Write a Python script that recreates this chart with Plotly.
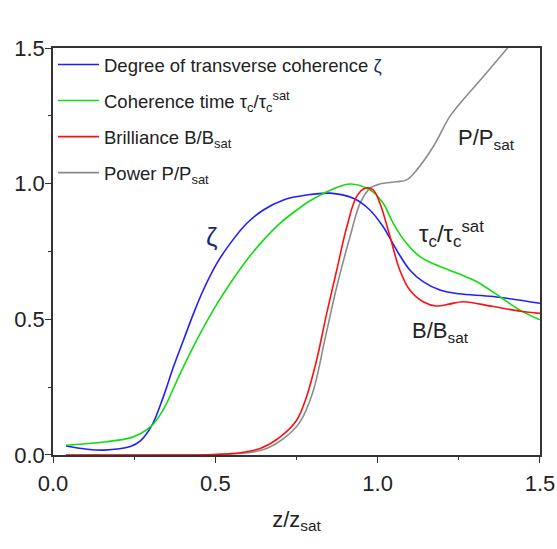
import plotly.graph_objects as go

# Degree of transverse coherence (blue)
zeta_x = [0.04, 0.10, 0.156, 0.238, 0.269, 0.304, 0.340, 0.371, 0.402, 0.433, 0.463, 0.505, 0.546, 0.597, 0.648, 0.71, 0.781, 0.853, 0.925, 0.976, 1.017, 1.058, 1.099, 1.14, 1.192, 1.25, 1.356, 1.5]
zeta_y = [0.033, 0.022, 0.018, 0.031, 0.052, 0.108, 0.215, 0.325, 0.424, 0.522, 0.608, 0.707, 0.78, 0.854, 0.903, 0.94, 0.958, 0.965, 0.946, 0.903, 0.841, 0.756, 0.682, 0.639, 0.608, 0.594, 0.584, 0.559]

# Coherence time (green)
tau_x = [0.04, 0.166, 0.238, 0.27, 0.304, 0.34, 0.392, 0.443, 0.494, 0.546, 0.597, 0.648, 0.699, 0.751, 0.792, 0.853, 0.915, 0.976, 1.017, 1.048, 1.089, 1.13, 1.181, 1.25, 1.30, 1.376, 1.438, 1.5]
tau_y = [0.036, 0.049, 0.063, 0.079, 0.108, 0.168, 0.301, 0.424, 0.535, 0.633, 0.719, 0.792, 0.854, 0.903, 0.937, 0.975, 0.999, 0.977, 0.928, 0.854, 0.78, 0.731, 0.70, 0.668, 0.642, 0.584, 0.534, 0.498]

# Brilliance (red)
b_x = [0.04, 0.3, 0.5, 0.576, 0.64, 0.70, 0.751, 0.781, 0.812, 0.843, 0.874, 0.905, 0.935, 0.961, 0.986, 1.007, 1.038, 1.068, 1.099, 1.14, 1.181, 1.22, 1.263, 1.356, 1.44, 1.5]
b_y = [0.0, 0.0, 0.002, 0.008, 0.025, 0.067, 0.129, 0.215, 0.35, 0.522, 0.682, 0.841, 0.952, 0.983, 0.977, 0.928, 0.805, 0.682, 0.608, 0.565, 0.549, 0.556, 0.565, 0.547, 0.530, 0.522]

# Power (grey)
p_x = [0.04, 0.3, 0.5, 0.6, 0.66, 0.71, 0.76, 0.80, 0.84, 0.874, 0.915, 0.946, 0.976, 1.007, 1.058, 1.089, 1.12, 1.171, 1.222, 1.263, 1.325, 1.40]
p_y = [0.0, 0.0, 0.002, 0.008, 0.025, 0.06, 0.12, 0.23, 0.44, 0.62, 0.805, 0.928, 0.983, 0.999, 1.007, 1.014, 1.05, 1.136, 1.247, 1.309, 1.394, 1.50]

x_ticks = [0.0, 0.5, 1.0, 1.5]
y_ticks = [0.0, 0.5, 1.0, 1.5]
tick_text = ["0.0", "0.5", "1.0", "1.5"]

FONT = "Liberation Sans Narrow, Arial Narrow, Liberation Sans, Arial, sans-serif"
TXT = "#222222"
SYM = "#1c2a6e"

fig = go.Figure()
line_style = dict(width=1.6, shape="spline", smoothing=1.0)
fig.add_trace(go.Scatter(x=p_x, y=p_y, mode="lines", name="Power P/P<sub>sat</sub>",
                         line=dict(color="#8c8c8c", **line_style),
                         legendrank=4, legendgroup="d"))
fig.add_trace(go.Scatter(x=zeta_x, y=zeta_y, mode="lines",
                         name=f"Degree of transverse coherence <span style='color:{SYM}'>ζ</span>",
                         line=dict(color="#2020ff", **line_style),
                         legendrank=1, legendgroup="a"))
fig.add_trace(go.Scatter(x=tau_x, y=tau_y, mode="lines",
                         name="Coherence time τ<sub>c</sub>/τ<sub>c</sub><sup>sat</sup>",
                         line=dict(color="#10dd10", **line_style),
                         legendrank=2, legendgroup="b"))
fig.add_trace(go.Scatter(x=b_x, y=b_y, mode="lines", name="Brilliance B/B<sub>sat</sub>",
                         line=dict(color="#ff1010", **line_style),
                         legendrank=3, legendgroup="c"))

ann_font = dict(family=FONT, size=22, color=TXT)
fig.add_annotation(x=0.487, y=0.803, xref="x", yref="y", text="ζ", showarrow=False,
                   font=dict(family=FONT, size=26, color=SYM))
fig.add_annotation(x=1.336, y=1.165, xref="x", yref="y", text="P/P<sub>sat</sub>", showarrow=False, font=ann_font)
fig.add_annotation(x=1.229, y=0.815, xref="x", yref="y", text="τ<sub>c</sub>/τ<sub>c</sub><sup>sat</sup>", showarrow=False,
                   font=dict(family=FONT, size=24, color=TXT))
fig.add_annotation(x=1.195, y=0.453, xref="x", yref="y", text="B/B<sub>sat</sub>", showarrow=False, font=ann_font)

axis_common = dict(showline=True, linecolor="#333333", linewidth=1.5, mirror=True,
                   ticks="outside", ticklen=6, tickwidth=1.3, tickcolor="#333333",
                   showgrid=False, zeroline=False, automargin=False,
                   tickfont=dict(family=FONT, size=22, color=TXT),
                   minor=dict(ticks="outside", ticklen=3, tickwidth=1.3, tickcolor="#333333", dtick=0.25))

fig.update_xaxes(range=[-0.0001, 1.5001], tickvals=x_ticks, ticktext=tick_text, ticklabelstandoff=2,
                 title=dict(text="z/z<sub>sat</sub>", font=dict(family=FONT, size=22, color=TXT), standoff=16),
                 **axis_common)
fig.update_yaxes(range=[-0.0001, 1.5001], tickvals=y_ticks, ticktext=tick_text, ticklabelstandoff=-4,
                 **axis_common)

fig.update_layout(
    width=557, height=549,
    margin=dict(l=53, r=17, t=48, b=94, pad=0),
    paper_bgcolor="white", plot_bgcolor="white",
    showlegend=True,
    legend=dict(x=0.0, y=1.005, xanchor="left", yanchor="top",
                font=dict(family=FONT, size=18.5, color=TXT),
                bgcolor="rgba(0,0,0,0)", borderwidth=0, tracegroupgap=9,
                itemwidth=41, traceorder="grouped"),
)

fig.write_html("out.html", config={"displayModeBar": False},
               post_script="document.body.style.margin='0px';")
